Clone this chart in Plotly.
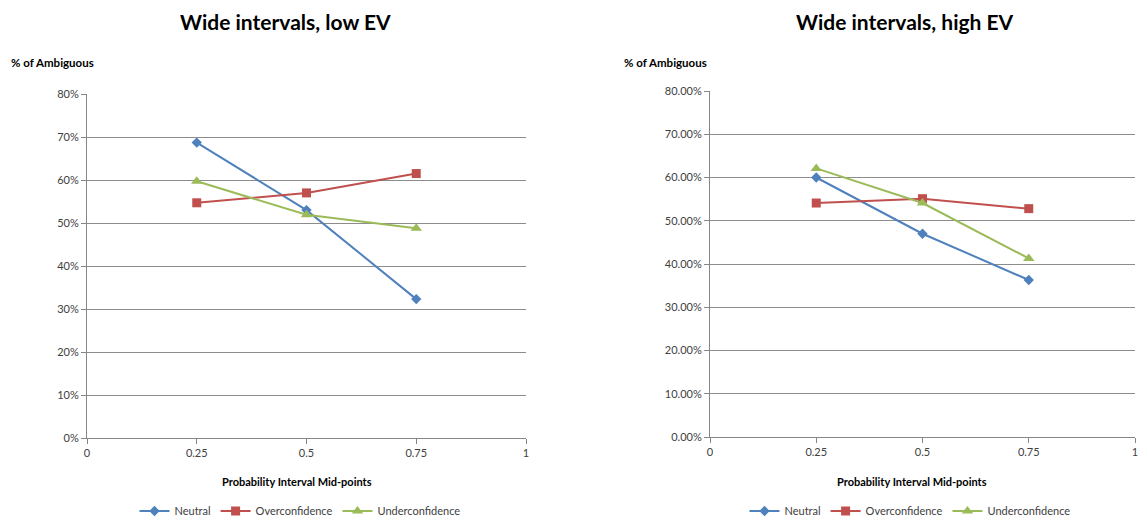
import plotly.graph_objects as go

# ---- data ----
x_mid = [0.25, 0.5, 0.75]
series_names = ["Neutral", "Overconfidence", "Underconfidence"]

low_neutral = [0.687, 0.530, 0.323]
low_over = [0.547, 0.570, 0.615]
low_under = [0.597, 0.519, 0.488]

high_neutral = [0.600, 0.470, 0.363]
high_over = [0.541, 0.551, 0.528]
high_under = [0.621, 0.541, 0.413]

x_ticks = [0, 0.25, 0.5, 0.75, 1]
x_tick_text = ["0", "0.25", "0.5", "0.75", "1"]
y_ticks = [0, 0.1, 0.2, 0.3, 0.4, 0.5, 0.6, 0.7, 0.8]

titles = ["Wide intervals, low EV", "Wide intervals, high EV"]
y_title = "% of Ambiguous"
x_title = "Probability Interval Mid-points"

colors = ["#4F81BD", "#C0504D", "#9BBB59"]
symbols = ["diamond", "square", "triangle-up"]
msizes = [8, 9, 10]

FONT = "Lato, Open Sans, sans-serif"
OFF = 8  # default page body margin
W, H = 1147 - 2 * OFF, 525 - 2 * OFF

fig = go.Figure()

panels = [
    (titles[0], [low_neutral, low_over, low_under], "x", "y", "legend"),
    (titles[1], [high_neutral, high_over, high_under], "x2", "y2", "legend2"),
]
for title, data, xa, ya, lg in panels:
    for name, vals, c, s, ms in zip(series_names, data, colors, symbols, msizes):
        fig.add_trace(go.Scatter(
            x=x_mid, y=vals, name=name, mode="lines+markers",
            line=dict(color=c, width=2),
            marker=dict(symbol=s, size=ms, color=c),
            xaxis=xa, yaxis=ya, legend=lg,
        ))

axis_common = dict(
    showline=True, linecolor="#868686", linewidth=1,
    ticks="outside", ticklen=5, tickcolor="#868686",
    tickfont=dict(family=FONT, size=11, color="#404040"),
    zeroline=False, automargin=False, ticklabeloverflow="allow",
)

# screen-pixel positions -> paper fractions
def px_x(p):
    return (p - OFF) / W

def px_y(p):
    return 1 - (p - OFF) / H

fig.update_layout(
    width=W, height=H,
    margin=dict(l=0, r=0, t=0, b=0, autoexpand=False),
    paper_bgcolor="white", plot_bgcolor="white",
    font=dict(family=FONT),
    xaxis=dict(domain=[px_x(87), px_x(526)], range=[0, 1], tickvals=x_ticks,
               ticktext=x_tick_text, showgrid=False, anchor="y", **axis_common),
    yaxis=dict(domain=[px_y(438), px_y(94)], range=[0, 0.8], tickvals=y_ticks,
               tickformat=".0%", showgrid=True, gridcolor="#8C8C8C", gridwidth=1,
               anchor="x", **axis_common),
    xaxis2=dict(domain=[px_x(710), px_x(1135)], range=[0, 1], tickvals=x_ticks,
                ticktext=x_tick_text, showgrid=False, anchor="y2", **axis_common),
    yaxis2=dict(domain=[px_y(437), px_y(91)], range=[0, 0.8], tickvals=y_ticks,
                tickformat=".2%", showgrid=True, gridcolor="#8C8C8C", gridwidth=1,
                anchor="x2", **axis_common),
    legend=dict(orientation="h", x=px_x(300), y=px_y(511), xanchor="center",
                yanchor="middle", font=dict(family=FONT, size=11, color="#404040"),
                bgcolor="rgba(0,0,0,0)", itemwidth=30),
    legend2=dict(orientation="h", x=px_x(910), y=px_y(511), xanchor="center",
                 yanchor="middle", font=dict(family=FONT, size=11, color="#404040"),
                 bgcolor="rgba(0,0,0,0)", itemwidth=30),
)

annots = [
    (285, 8, titles[0], 21, "center", "top"),
    (905, 8, titles[1], 21, "center", "top"),
    (10, 62, y_title, 11.5, "left", "middle"),
    (623, 62, y_title, 11.5, "left", "middle"),
    (297, 481, x_title, 11, "center", "middle"),
    (912, 481, x_title, 11, "center", "middle"),
]
for xp, yp, txt, sz, xanc, yanc in annots:
    fig.add_annotation(
        x=px_x(xp), y=px_y(yp), xref="paper", yref="paper",
        text=f"<b>{txt}</b>", showarrow=False, xanchor=xanc, yanchor=yanc,
        font=dict(family=FONT, size=sz, color="#000000"), borderpad=0,
    )

fig.write_html("out.html")
